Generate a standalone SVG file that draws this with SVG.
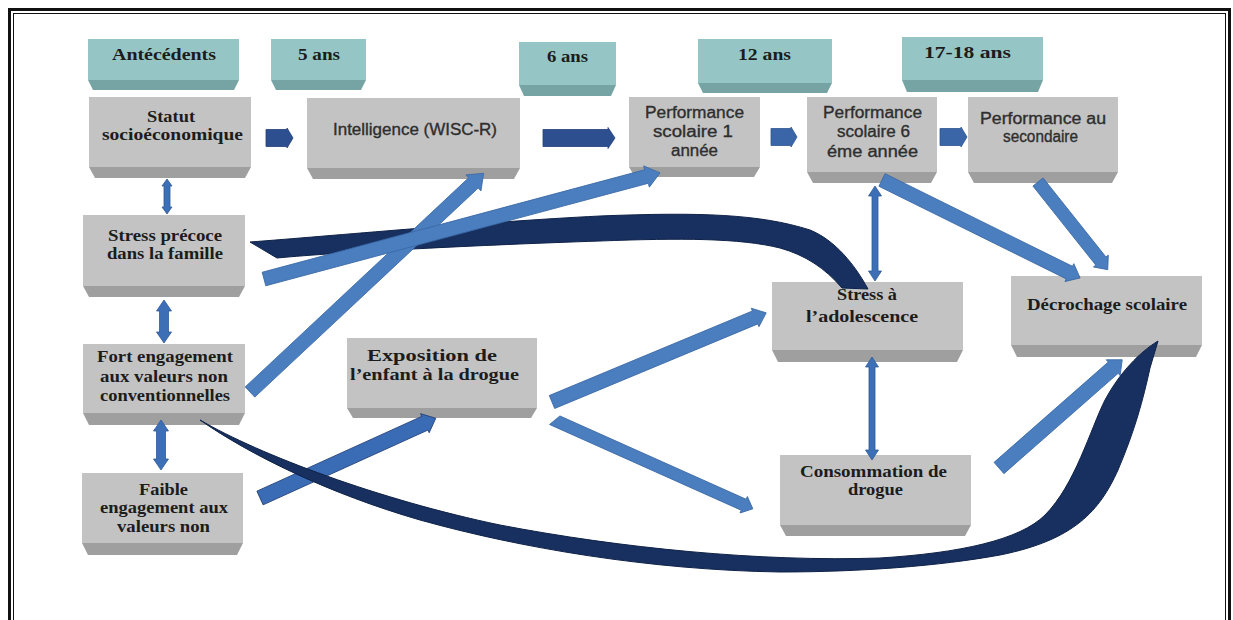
<svg xmlns="http://www.w3.org/2000/svg" width="1233" height="620" viewBox="0 0 1233 620">
<defs>
<style>
.hf{fill:#95c5c5}
.hb{fill:#76a4a4}
.gf{fill:#c3c3c3}
.gb{fill:#9f9f9f}
.sr{font-family:"Liberation Serif","Times New Roman",serif;font-weight:bold;font-size:17px;fill:#1c1c1c;text-anchor:middle}
.ss{font-family:"Liberation Sans",Arial,sans-serif;font-size:16px;fill:#2e2e2e;stroke:#2e2e2e;stroke-width:0.35;text-anchor:middle}
.ab{fill:#4a7ebf;stroke:#3a68a5;stroke-width:0.8}
.ad{fill:#2d4f8f;stroke:#223f78;stroke-width:0.8}
.am{fill:#3a66a8;stroke:#2e5590;stroke-width:0.8}
.av{fill:#3d6fb7;stroke:#2f5a98;stroke-width:0.8}
.rb{fill:#18305f;stroke:#0f2248;stroke-width:1}
</style>
</defs>
<rect x="0" y="0" width="1233" height="620" fill="#fff"/>
<rect x="9.5" y="9.5" width="1220" height="640" fill="none" stroke="#111" stroke-width="3"/>
<rect x="13.5" y="13.5" width="1212" height="640" fill="none" stroke="#111" stroke-width="1"/>

<g id="h-antecedents"><rect class="hf" x="88" y="39" width="151" height="41"/><polygon class="hb" points="88,80 239,80 234,90 93,90"/><text class="sr" x="164" y="60" textLength="104" lengthAdjust="spacingAndGlyphs">Antécédents</text></g>
<g id="h-5ans"><rect class="hf" x="271" y="39" width="95" height="41"/><polygon class="hb" points="271,80 366,80 361,90 276,90"/><text class="sr" x="319" y="60" textLength="42" lengthAdjust="spacingAndGlyphs">5 ans</text></g>
<g id="h-6ans"><rect class="hf" x="519" y="42" width="97" height="43"/><polygon class="hb" points="519,85 616,85 611,96 524,96"/><text class="sr" x="567.5" y="62" textLength="41" lengthAdjust="spacingAndGlyphs">6 ans</text></g>
<g id="h-12ans"><rect class="hf" x="698" y="39" width="134" height="44"/><polygon class="hb" points="698,83 832,83 827,93 703,93"/><text class="sr" x="764.5" y="60" textLength="53" lengthAdjust="spacingAndGlyphs">12 ans</text></g>
<g id="h-1718ans"><rect class="hf" x="902" y="37" width="141" height="43"/><polygon class="hb" points="902,80 1043,80 1038,92 907,92"/><text class="sr" x="967.5" y="58" textLength="87" lengthAdjust="spacingAndGlyphs">17-18 ans</text></g>

<g id="n-statut"><rect class="gf" x="89" y="97" width="162" height="70"/><polygon class="gb" points="89,167 251,167 245,178 95,178"/><text class="sr" x="171" y="122" style="font-size:16px" textLength="48" lengthAdjust="spacingAndGlyphs">Statut</text><text class="sr" x="172.5" y="140" style="font-size:16px" textLength="141" lengthAdjust="spacingAndGlyphs">socioéconomique</text></g>
<g id="n-intelligence"><rect class="gf" x="307" y="98" width="213" height="70"/><polygon class="gb" points="307,168 520,168 514,179 313,179"/><text class="ss" x="415" y="135" textLength="164" lengthAdjust="spacingAndGlyphs">Intelligence (WISC-R)</text></g>
<g id="n-perf1"><rect class="gf" x="629" y="97" width="131" height="70"/><polygon class="gb" points="629,167 760,167 754,177 635,177"/><text class="ss" x="694.5" y="118" textLength="99" lengthAdjust="spacingAndGlyphs">Performance</text><text class="ss" x="693" y="137" textLength="80" lengthAdjust="spacingAndGlyphs">scolaire 1</text><text class="ss" x="694.5" y="156" textLength="47" lengthAdjust="spacingAndGlyphs">année</text></g>
<g id="n-perf6"><rect class="gf" x="807" y="97" width="130" height="75"/><polygon class="gb" points="807,172 937,172 931,183 813,183"/><text class="ss" x="872.5" y="118" textLength="99" lengthAdjust="spacingAndGlyphs">Performance</text><text class="ss" x="873.5" y="137" textLength="73" lengthAdjust="spacingAndGlyphs">scolaire 6</text><text class="ss" x="872.5" y="157" textLength="91" lengthAdjust="spacingAndGlyphs">éme année</text></g>
<g id="n-perfsec"><rect class="gf" x="968" y="97" width="150" height="75"/><polygon class="gb" points="968,172 1118,172 1112,183 974,183"/><text class="ss" x="1043" y="124" textLength="126" lengthAdjust="spacingAndGlyphs">Performance au</text><text class="ss" x="1040.5" y="142" textLength="75" lengthAdjust="spacingAndGlyphs">secondaire</text></g>
<g id="n-stresspre"><rect class="gf" x="83" y="215" width="162" height="71"/><polygon class="gb" points="83,286 245,286 239,297 89,297"/><text class="sr" x="165" y="241" textLength="114" lengthAdjust="spacingAndGlyphs">Stress précoce</text><text class="sr" x="165" y="259" textLength="116" lengthAdjust="spacingAndGlyphs">dans la famille</text></g>
<g id="n-fort"><rect class="gf" x="83" y="344" width="162" height="69"/><polygon class="gb" points="83,413 245,413 239,425 89,425"/><text class="sr" x="165" y="362" textLength="136" lengthAdjust="spacingAndGlyphs">Fort engagement</text><text class="sr" x="164" y="382" textLength="128" lengthAdjust="spacingAndGlyphs">aux valeurs non</text><text class="sr" x="165" y="401" textLength="130" lengthAdjust="spacingAndGlyphs">conventionnelles</text></g>
<g id="n-faible"><rect class="gf" x="82" y="473" width="161" height="70"/><polygon class="gb" points="82,543 243,543 237,555 88,555"/><text class="sr" x="163.5" y="495" textLength="49" lengthAdjust="spacingAndGlyphs">Faible</text><text class="sr" x="164" y="513" textLength="128" lengthAdjust="spacingAndGlyphs">engagement aux</text><text class="sr" x="163.5" y="532" textLength="93" lengthAdjust="spacingAndGlyphs">valeurs non</text></g>
<g id="n-exposition"><rect class="gf" x="347" y="338" width="190" height="70"/><polygon class="gb" points="347,408 537,408 531,418 353,418"/><text class="sr" x="432" y="361" textLength="130" lengthAdjust="spacingAndGlyphs">Exposition de</text><text class="sr" x="434.5" y="380" textLength="169" lengthAdjust="spacingAndGlyphs">l’enfant à la drogue</text></g>
<g id="n-stressado"><rect class="gf" x="772" y="282" width="191" height="68"/><polygon class="gb" points="772,350 963,350 957,362 778,362"/><text class="sr" x="867" y="300" textLength="60" lengthAdjust="spacingAndGlyphs">Stress à</text><text class="sr" x="862" y="322" textLength="112" lengthAdjust="spacingAndGlyphs">l’adolescence</text></g>
<g id="n-decrochage"><rect class="gf" x="1011" y="276" width="191" height="69"/><polygon class="gb" points="1011,345 1202,345 1196,357 1017,357"/><text class="sr" x="1107" y="310" textLength="160" lengthAdjust="spacingAndGlyphs">Décrochage scolaire</text></g>
<g id="n-consommation"><rect class="gf" x="780" y="455" width="191" height="70"/><polygon class="gb" points="780,525 971,525 965,536 786,536"/><text class="sr" x="873.5" y="477" textLength="147" lengthAdjust="spacingAndGlyphs">Consommation de</text><text class="sr" x="875.5" y="495" textLength="55" lengthAdjust="spacingAndGlyphs">drogue</text></g>

<g id="connectors">
<path class="rb" d="M250,242 C330,236 480,222 600,216 C700,212 760,214 810,230 C835,240 855,265 868,289 L842,288 C825,268 805,255 780,248 C740,238 680,238 600,241 C480,245 340,252 277,258 Z"/>
<polygon class="ad" points="0,-8.5 21,-8.5 21,-10 27,0 21,10 21,8.5 0,8.5" transform="translate(266,138)"/>
<polygon class="ad" points="0,-8.5 65,-8.5 65,-10.5 72,0 65,10.5 65,8.5 0,8.5" transform="translate(543,138)"/>
<polygon class="am" points="0,-8.5 20,-8.5 20,-10 26,0 20,10 20,8.5 0,8.5" transform="translate(771,137)"/>
<polygon class="am" points="0,-8.5 21,-8.5 21,-10 27,0 21,10 21,8.5 0,8.5" transform="translate(940,137)"/>
<polygon class="av" points="0,0 7,-5 7,-3 28,-3 28,-5 35,0 28,5 28,3 7,3 7,5" transform="translate(167,179) rotate(90)"/>
<polygon class="av" points="0,0 11,-7.5 11,-4.5 32,-4.5 32,-7.5 43,0 32,7.5 32,4.5 11,4.5 11,7.5" transform="translate(164,300) rotate(90)"/>
<polygon class="av" points="0,0 11,-7.5 11,-4.5 39,-4.5 39,-7.5 50,0 39,7.5 39,4.5 11,4.5 11,7.5" transform="translate(161,420) rotate(90)"/>
<polygon class="av" points="0,0 10,-6.5 10,-3 85,-3 85,-6.5 95,0 85,6.5 85,3 10,3 10,6.5" transform="translate(875,186) rotate(90)"/>
<polygon class="av" points="0,0 10,-6.5 10,-3 93,-3 93,-6.5 103,0 93,6.5 93,3 10,3 10,6.5" transform="translate(872,357) rotate(90)"/>
<polygon class="ab" points="0,-7 306,-7 306,-11 320,0 306,11 306,7 0,7" transform="translate(250,392) rotate(-43.1)"/>
<polygon class="ab" points="0,-7 396,-7 396,-11 410,0 396,11 396,7 0,7" transform="translate(264,279) rotate(-15)"/>
<polygon class="ab" points="0,-7 220,-7 220,-10 232,0 220,10 220,7 0,7" transform="translate(552,402) rotate(-22.6)"/>
<polygon class="ab" points="6,-6 210,-6 210,-9 220,0 210,9 210,6 0,6" transform="translate(552,419) rotate(24.1)"/>
<polygon class="ad" points="0,-7.5 181,-7.5 181,-10.5 193,0 181,10.5 181,7.5 0,7.5" transform="translate(260,498) rotate(-24.4)" style="fill:#3a6bb5"/>
<polygon class="ab" points="0,-7 209,-7 209,-10 221,0 209,10 209,7 0,7" transform="translate(882,180) rotate(26.3)"/>
<polygon class="ab" points="0,-6.5 101,-6.5 101,-9.5 112,0 101,9.5 101,6.5 0,6.5" transform="translate(1038,182) rotate(51.5)"/>
<polygon class="ab" points="0,-7.5 152,-7.5 152,-10.5 164,0 152,10.5 152,7.5 0,7.5" transform="translate(999,468) rotate(-41.3)"/>
<path class="rb" d="M200,420 C260,455 380,500 500,525 C620,548 760,562 880,558 C960,553 1020,540 1045,515 C1075,485 1090,430 1105,400 C1120,372 1140,352 1158,341 L1150,368 C1143,400 1135,430 1118,470 C1100,510 1075,540 1000,555 C940,566 860,572 780,572 C650,570 520,548 420,520 C330,494 250,455 200,420 Z"/>
</g>
</svg>
